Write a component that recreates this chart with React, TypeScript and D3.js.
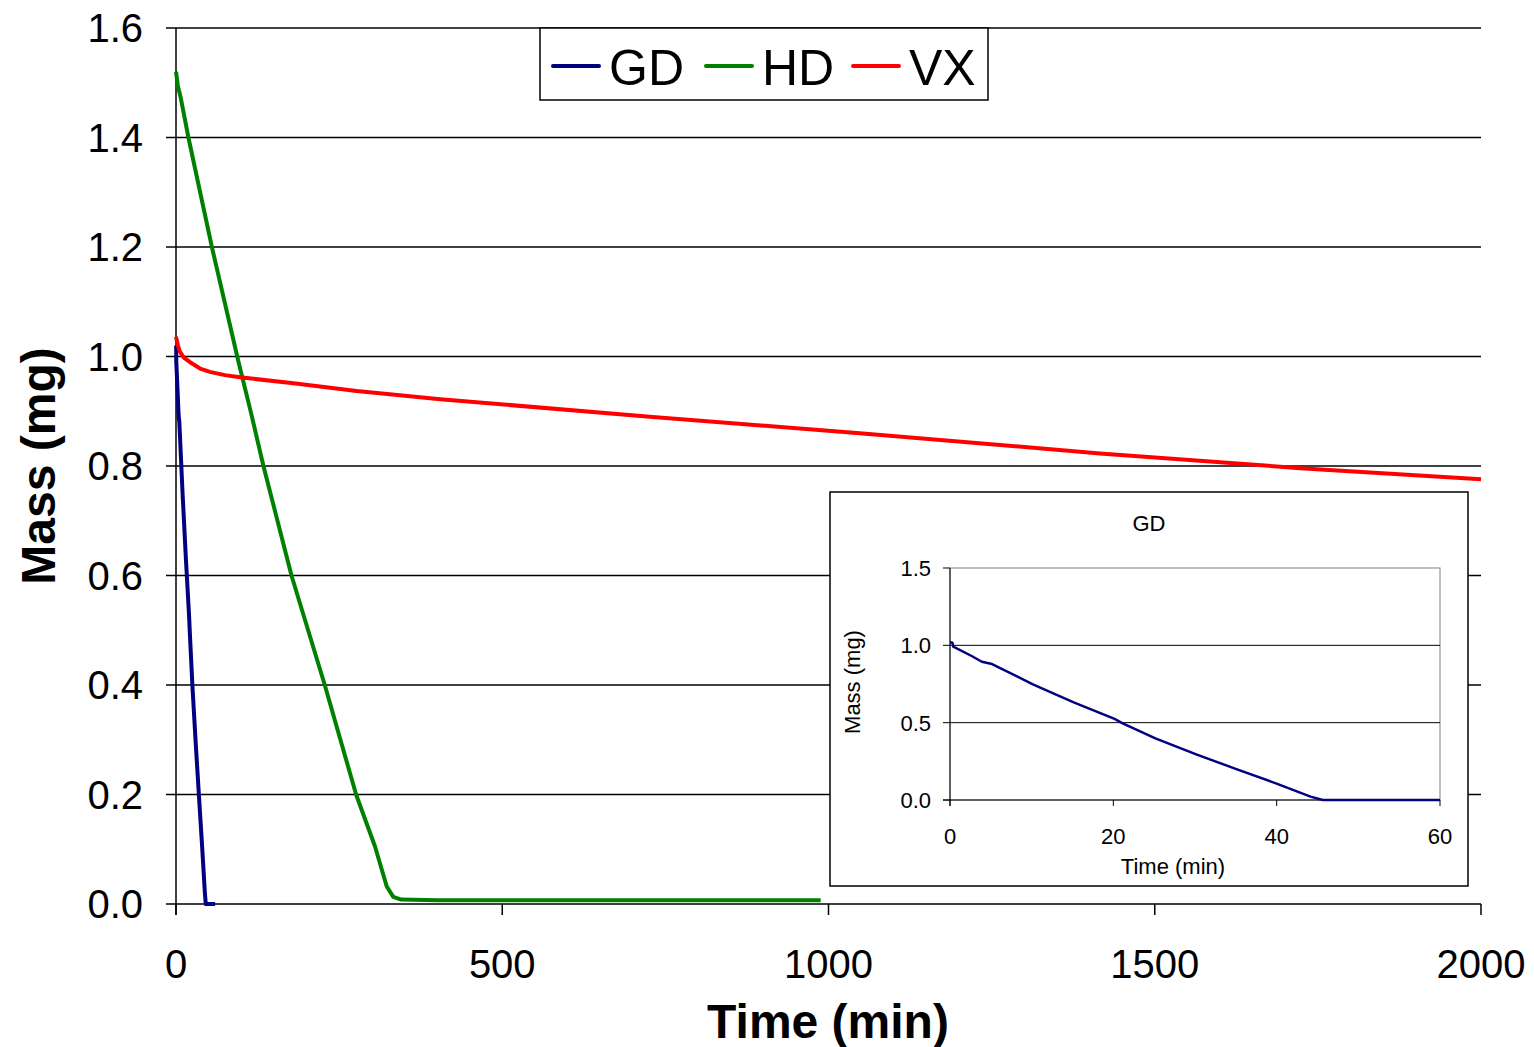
import * as d3 from 'd3';

// time (min) / mass (mg)
const gdTime = [0, 0.3, 0.4, 2.65, 3.9, 5.15, 10.15, 15.15, 20.15, 21.15, 25.15, 30.15, 35.15, 40.15, 44.15, 45.65, 60];
const gdMass = [1.02, 1.017, 0.991, 0.931, 0.894, 0.879, 0.748, 0.631, 0.524, 0.496, 0.399, 0.295, 0.198, 0.103, 0.022, 0.0, 0.0];

const hdTime = [0, 3, 7, 19, 55, 95, 115, 134, 177, 228, 276, 305, 323, 333, 345, 400, 988];
const hdMass = [1.52, 1.493, 1.474, 1.4, 1.2, 0.994, 0.897, 0.8, 0.6, 0.4, 0.2, 0.105, 0.032, 0.013, 0.008, 0.007, 0.007];

const vxTime = [0, 3, 6, 12, 21, 37, 52, 75, 98, 180, 277, 405, 726, 1048, 1416, 1723, 2000];
const vxMass = [1.036, 1.02, 1.009, 0.998, 0.99, 0.978, 0.972, 0.966, 0.962, 0.951, 0.937, 0.922, 0.89, 0.86, 0.823, 0.796, 0.776];

const yTicks = [0, 0.2, 0.4, 0.6, 0.8, 1.0, 1.2, 1.4, 1.6];
const xTicks = [0, 500, 1000, 1500, 2000];
const insetYTicks = [0, 0.5, 1.0, 1.5];
const insetXTicks = [0, 20, 40, 60];

const series = [
  { name: 'GD', color: '#000080', t: gdTime, m: gdMass },
  { name: 'HD', color: '#008000', t: hdTime, m: hdMass },
  { name: 'VX', color: '#ff0000', t: vxTime, m: vxMass },
];

const font = 'Liberation Sans, Arial, sans-serif';

const App = () => {
  const x = d3.scaleLinear().domain([0, 2000]).range([176, 1481]);
  const y = d3.scaleLinear().domain([0, 1.6]).range([904, 28]);

  const line = d3.line<[number, number]>()
    .x(d => x(d[0]))
    .y(d => y(d[1]));

  // inset
  const ix = d3.scaleLinear().domain([0, 60]).range([950, 1440]);
  const iy = d3.scaleLinear().domain([0, 1.5]).range([800, 568]);
  const iline = d3.line<[number, number]>()
    .x(d => ix(d[0]))
    .y(d => iy(d[1]));

  const pts = (t: number[], m: number[]) => t.map((v, i) => [v, m[i]] as [number, number]);

  const legendItems = [
    { name: 'GD', color: '#000080', x: 553 },
    { name: 'HD', color: '#008000', x: 706 },
    { name: 'VX', color: '#ff0000', x: 853 },
  ];

  return (
    <svg width={1534} height={1047} style={{ position: 'absolute', left: 0, top: 0, background: '#fff' }}
      fontFamily={font}>
      {/* grid lines */}
      {yTicks.map(v => (
        <g key={'y' + v}>
          <line x1={166} x2={1481} y1={y(v)} y2={y(v)} stroke="#000" strokeWidth={1.5} />
          <text x={143} y={y(v) + 14} fontSize={40} textAnchor="end">{v.toFixed(1)}</text>
        </g>
      ))}
      {xTicks.map(v => (
        <g key={'x' + v}>
          <line x1={x(v)} x2={x(v)} y1={904} y2={915} stroke="#000" strokeWidth={1.5} />
          <text x={x(v)} y={978} fontSize={40} textAnchor="middle">{v}</text>
        </g>
      ))}
      <line x1={176} x2={176} y1={28} y2={915} stroke="#000" strokeWidth={1.5} />

      {/* data */}
      {series.map(s => (
        <path key={s.name} d={line(pts(s.t, s.m)) || ''} fill="none" stroke={s.color}
          strokeWidth={4} strokeLinejoin="round" />
      ))}

      {/* axis titles */}
      <text x={828} y={1038} fontSize={48} fontWeight="bold" textAnchor="middle">Time (min)</text>
      <text transform="translate(55,466) rotate(-90)" fontSize={48} fontWeight="bold" textAnchor="middle">Mass (mg)</text>

      {/* legend */}
      <rect x={540} y={28} width={448} height={72} fill="#fff" stroke="#000" strokeWidth={1.5} />
      {legendItems.map(l => (
        <g key={l.name}>
          <line x1={l.x} x2={l.x + 46} y1={66} y2={66} stroke={l.color} strokeWidth={4} strokeLinecap="round" />
          <text x={l.x + 56} y={85} fontSize={50}>{l.name}</text>
        </g>
      ))}

      {/* inset */}
      <rect x={830} y={492} width={638} height={394} fill="#fff" stroke="#000" strokeWidth={1.5} />
      <text x={1149} y={531} fontSize={22} textAnchor="middle">GD</text>
      <rect x={950} y={568} width={490} height={232} fill="none" stroke="#808080" strokeWidth={1} />
      {insetYTicks.map(v => (
        <g key={'iy' + v}>
          {v > 0 && v < 1.5 && (
            <line x1={950} x2={1440} y1={iy(v)} y2={iy(v)} stroke="#000" strokeWidth={1} />
          )}
          <line x1={943} x2={950} y1={iy(v)} y2={iy(v)} stroke="#000" strokeWidth={1} />
          <text x={931} y={iy(v) + 8} fontSize={22} textAnchor="end">{v.toFixed(1)}</text>
        </g>
      ))}
      {insetXTicks.map(v => (
        <g key={'ix' + v}>
          <line x1={ix(v)} x2={ix(v)} y1={800} y2={806} stroke="#000" strokeWidth={1} />
          <text x={ix(v)} y={844} fontSize={22} textAnchor="middle">{v}</text>
        </g>
      ))}
      <line x1={950} x2={950} y1={568} y2={806} stroke="#000" strokeWidth={1} />
      <line x1={943} x2={1440} y1={800} y2={800} stroke="#000" strokeWidth={1} />
      <path d={iline(pts(gdTime, gdMass)) || ''} fill="none" stroke="#000080" strokeWidth={2.5} strokeLinejoin="round" />
      <text x={1173} y={874} fontSize={22} textAnchor="middle">Time (min)</text>
      <text transform="translate(860,682) rotate(-90)" fontSize={22} textAnchor="middle">Mass (mg)</text>
    </svg>
  );
};

export default App;
